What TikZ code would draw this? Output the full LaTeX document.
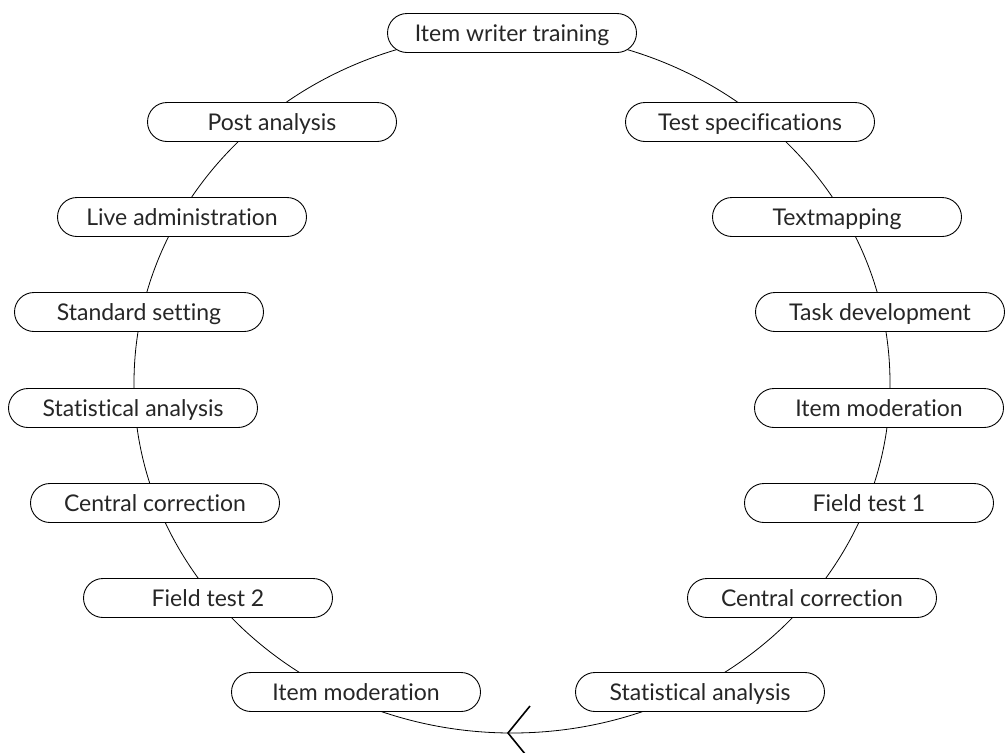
\documentclass[tikz,border=0pt]{standalone}
\usepackage{fontspec}
\setmainfont{Lato}[Ligatures=NoCommon]
\begin{document}
\begin{tikzpicture}[x=1pt,y=-1pt,
  stage/.style={draw, line width=0.9pt, fill=white, rounded corners=19.5pt,
    minimum width=249pt, minimum height=39pt, inner sep=0pt,
    text height=18pt, text depth=2pt,
    text=black!85, font=\fontsize{23}{27}\selectfont},
  ring/.style={line width=0.8pt},
  tipline/.style={line width=1.6pt}]
\useasboundingbox (0,0) rectangle (1005,753);
\draw[ring] (512,383) ellipse [x radius=378pt, y radius=350pt];
\node[stage] (itw)   at (512,33)  {Item writer training};
\node[stage] (post)  at (272,122) {Post analysis};
\node[stage] (spec)  at (750,122) {Test specifications};
\node[stage] (live)  at (182,217) {Live administration};
\node[stage] (textm) at (837,217) {Textmapping};
\node[stage] (std)   at (139,312) {Standard setting};
\node[stage] (task)  at (880,312) {Task development};
\node[stage] (statL) at (133,408) {Statistical analysis};
\node[stage] (modR)  at (879,408) {Item moderation};
\node[stage] (ccL)   at (155,503) {Central correction};
\node[stage] (ft1)   at (869,503) {Field test 1};
\node[stage] (ft2)   at (208,598) {Field test 2};
\node[stage] (ccR)   at (812,598) {Central correction};
\node[stage] (modL)  at (356,692) {Item moderation};
\node[stage] (statR) at (700,692) {Statistical analysis};
\coordinate (tip) at (508,733);
\draw[tipline] ([shift={(22,-27)}]tip) -- (tip) -- ([shift={(22,27)}]tip);
\end{tikzpicture}
\end{document}
